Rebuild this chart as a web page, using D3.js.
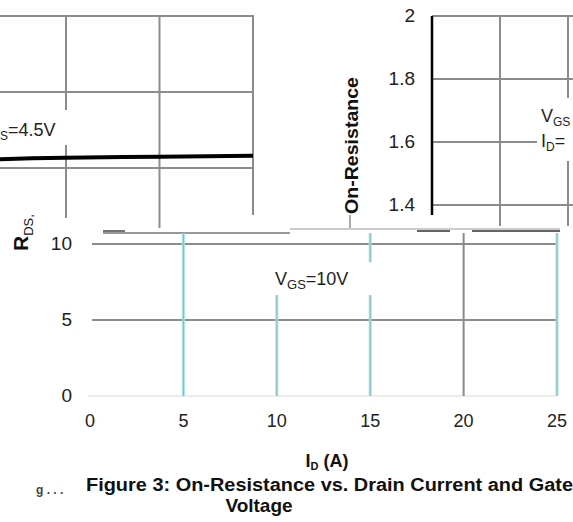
<!DOCTYPE html>
<html>
<head>
<meta charset="utf-8">
<title>Figure 3</title>
<script src="https://cdn.jsdelivr.net/npm/d3@7"></script>
<style>
  body { margin: 0; background: #fff; }
  text { font-family: "Liberation Sans", Arial, sans-serif; fill: #222; }
  .bold { font-weight: bold; fill: #111; }
</style>
</head>
<body>
<div id="chart"></div>
<script>
// tick values
var idTicks = [0, 5, 10, 15, 20, 25];
var rdsTicks = [0, 5, 10];
var normTicks = [1.4, 1.6, 1.8, 2];
var normGridX = [1, 2];          // vertical grid slots, right-hand fragment
// upper fragment (cut off VGS=4.5V chart)
var upperGridId = [15, 20, 25];
var upperGridR = [15, 20, 25];
var curveId = [11.4, 13.2, 15, 20, 25];
var curveR = [15.58, 15.64, 15.68, 15.74, 15.8];
// cyan-tinted lines in the lower chart
var cyanIds = [5, 10, 15, 25];

var W = 573, H = 522;
var grey = "#8c8c8c";

var svg = d3.select("#chart").append("svg")
    .attr("width", W).attr("height", H);
svg.append("rect").attr("width", W).attr("height", H).attr("fill", "#fff");

// ---------- fragment A : top left ----------
var xA = d3.scaleLinear().domain([15, 25]).range([66, 253]);
var yA = d3.scaleLinear().domain([15, 25]).range([168, 16]);
var gA = svg.append("g");

gA.selectAll(".hA").data(upperGridR).enter().append("line")
    .attr("x1", 0).attr("x2", xA(25) + 1)
    .attr("y1", function(d) { return yA(d); })
    .attr("y2", function(d) { return yA(d); })
    .attr("stroke", grey).attr("stroke-width", 2);

gA.selectAll(".vA").data(upperGridId).enter().append("line")
    .attr("x1", function(d) { return xA(d); })
    .attr("x2", function(d) { return xA(d); })
    .attr("y1", yA(25))
    .attr("y2", function(d) { return d == 20 ? 228 : d == 15 ? 218 : 215; })
    .attr("stroke", grey).attr("stroke-width", 2);

// label box for VGS=4.5V (only the tail shows)
gA.append("rect").attr("x", 0).attr("y", 110).attr("width", 69).attr("height", 35).attr("fill", "#fff");
var tA = gA.append("text").attr("x", 0).attr("y", 136).style("font-size", "18px");
tA.append("tspan").text("S").style("font-size", "12px").attr("dy", 4);
tA.append("tspan").text("=4.5V").attr("dy", -4);

var lineA = d3.line()
    .x(function(d, i) { return xA(curveId[i]); })
    .y(function(d) { return yA(d); })
    .curve(d3.curveMonotoneX);
gA.append("path").datum(curveR)
    .attr("d", lineA)
    .attr("fill", "none").attr("stroke", "#000").attr("stroke-width", 4);

// ---------- fragment B : top right ----------
var yB = d3.scaleLinear().domain([1.4, 2]).range([205, 16]);
var xB = d3.scaleLinear().domain([0, 1]).range([432, 500]);
var gB = svg.append("g");

gB.selectAll(".hB").data(normTicks).enter().append("line")
    .attr("x1", xB(0)).attr("x2", W)
    .attr("y1", function(d) { return yB(d); })
    .attr("y2", function(d) { return yB(d); })
    .attr("stroke", grey).attr("stroke-width", 2);

gB.selectAll(".vB").data(normGridX).enter().append("line")
    .attr("x1", function(d) { return xB(d); })
    .attr("x2", function(d) { return xB(d); })
    .attr("y1", yB(2)).attr("y2", 226)
    .attr("stroke", grey).attr("stroke-width", 2);

gB.append("line")
    .attr("x1", xB(0)).attr("x2", xB(0))
    .attr("y1", yB(2)).attr("y2", 215)
    .attr("stroke", "#000").attr("stroke-width", 2.5);

gB.selectAll(".tB").data(normTicks).enter().append("text")
    .attr("x", 415).attr("y", function(d) { return yB(d) + 1; })
    .attr("text-anchor", "end").attr("dominant-baseline", "middle")
    .style("font-size", "19px")
    .text(function(d) { return d == 2 ? "2" : d3.format(".1f")(d); });

// label box VGS / ID
gB.append("rect").attr("x", 537).attr("y", 98).attr("width", 40).attr("height", 63).attr("fill", "#fff");
var tB1 = gB.append("text").attr("x", 541).attr("y", 122).style("font-size", "18px");
tB1.append("tspan").text("V");
tB1.append("tspan").text("GS").style("font-size", "12px").attr("dy", 4);
var tB2 = gB.append("text").attr("x", 541).attr("y", 147).style("font-size", "18px");
tB2.append("tspan").text("I");
tB2.append("tspan").text("D").style("font-size", "12px").attr("dy", 4);
tB2.append("tspan").text("=").attr("dy", -4);

// axis title
gB.append("text").attr("class", "bold")
    .attr("transform", "translate(358,214) rotate(-90)")
    .attr("textLength", 137).attr("lengthAdjust", "spacingAndGlyphs")
    .style("font-size", "19px")
    .text("On-Resistance");
gB.append("line").attr("x1", 350).attr("x2", 350).attr("y1", 215).attr("y2", 228)
    .attr("stroke", "#aaa").attr("stroke-width", 2);

// ---------- fragment C : bottom main ----------
var x = d3.scaleLinear().domain([0, 25]).range([90, 557]);
var y = d3.scaleLinear().domain([0, 10]).range([396, 244]);
var gC = svg.append("g");

// cover anything running into the lower chart
gC.append("rect").attr("x", 88).attr("y", 233).attr("width", W - 88).attr("height", 170).attr("fill", "#fff");

// top edge pieces
gC.append("line").attr("x1", 103).attr("x2", 125).attr("y1", 231).attr("y2", 231)
    .attr("stroke", "#444").attr("stroke-width", 1.5);
gC.append("line").attr("x1", 103).attr("x2", 290).attr("y1", 233).attr("y2", 233)
    .attr("stroke", "#777").attr("stroke-width", 1.5);
gC.append("line").attr("x1", 290).attr("x2", 560).attr("y1", 229).attr("y2", 229)
    .attr("stroke", "#bbb").attr("stroke-width", 1.5);
gC.append("line").attr("x1", 417).attr("x2", 450).attr("y1", 231).attr("y2", 231)
    .attr("stroke", "#333").attr("stroke-width", 1.5);
gC.append("line").attr("x1", 472).attr("x2", 560).attr("y1", 231).attr("y2", 231)
    .attr("stroke", "#333").attr("stroke-width", 1.5);

// horizontal grid
gC.selectAll(".hC").data(rdsTicks.filter(function(d) { return d > 0; })).enter().append("line")
    .attr("x1", x(0) + 2).attr("x2", x(25))
    .attr("y1", function(d) { return y(d); })
    .attr("y2", function(d) { return y(d); })
    .attr("stroke", grey).attr("stroke-width", 2);
gC.append("line").attr("x1", x(0) - 2).attr("x2", x(25))
    .attr("y1", y(0)).attr("y2", y(0))
    .attr("stroke", "#e6e6e6").attr("stroke-width", 1.5);

// vertical grid (with the gaps left by the label box)
var vSegs = [];
idTicks.filter(function(d) { return d > 0; }).forEach(function(d) {
  if (d == 10) vSegs.push([d, 0, 6.64]);
  else if (d == 15) { vSegs.push([d, 0, 6.64]); vSegs.push([d, 8.8, 10.72]); }
  else vSegs.push([d, 0, 10.72]);
});
var vC = gC.selectAll(".vC").data(vSegs).enter();
vC.append("line")
    .attr("x1", function(d) { return x(d[0]); })
    .attr("x2", function(d) { return x(d[0]); })
    .attr("y1", function(d) { return y(d[1]); })
    .attr("y2", function(d) { return y(d[2]); })
    .attr("stroke", function(d) { return cyanIds.indexOf(d[0]) >= 0 ? "#a6e3e7" : grey; })
    .attr("stroke-width", function(d) { return cyanIds.indexOf(d[0]) >= 0 ? 3 : 2; });
vC.append("line")
    .attr("x1", function(d) { return x(d[0]); })
    .attr("x2", function(d) { return x(d[0]); })
    .attr("y1", function(d) { return y(d[1]); })
    .attr("y2", function(d) { return y(d[2]); })
    .attr("stroke", function(d) { return cyanIds.indexOf(d[0]) >= 0 ? "#8fb8bb" : grey; })
    .attr("stroke-width", 1);

// ticks
gC.selectAll(".ty").data(rdsTicks).enter().append("text")
    .attr("x", 72).attr("y", function(d) { return y(d) + 1; })
    .attr("text-anchor", "end").attr("dominant-baseline", "middle")
    .style("font-size", "19px")
    .text(function(d) { return d; });
gC.selectAll(".tx").data(idTicks).enter().append("text")
    .attr("x", function(d) { return x(d); }).attr("y", 422)
    .attr("text-anchor", "middle").attr("dominant-baseline", "middle")
    .style("font-size", "18px")
    .text(function(d) { return d; });

// label VGS=10V
var tC = gC.append("text").attr("x", 275).attr("y", 285).style("font-size", "18px");
tC.append("tspan").text("V");
tC.append("tspan").text("GS").style("font-size", "13px").attr("dy", 4);
tC.append("tspan").text("=10V").attr("dy", -4);

// y title (cut) R DS
var tR = svg.append("text").attr("class", "bold")
    .attr("transform", "translate(28,251) rotate(-90)")
    .style("font-size", "21px");
tR.append("tspan").text("R");
tR.append("tspan").text("DS,").style("font-size", "13px").style("font-weight", "normal").attr("dy", 5);

// x title
var tX = svg.append("text").attr("class", "bold")
    .attr("x", 327).attr("y", 467).attr("text-anchor", "middle")
    .style("font-size", "18px");
tX.append("tspan").text("I");
tX.append("tspan").text("D").style("font-size", "11px").attr("dy", 3);
tX.append("tspan").text(" (A)").attr("dy", -3);

// caption
svg.append("text").attr("class", "bold")
    .attr("x", 86).attr("y", 491)
    .attr("textLength", 487).attr("lengthAdjust", "spacingAndGlyphs")
    .style("font-size", "18px")
    .text("Figure 3: On-Resistance vs. Drain Current and Gate");
svg.append("text").attr("class", "bold")
    .attr("x", 259).attr("y", 512).attr("text-anchor", "middle")
    .style("font-size", "19px")
    .text("Voltage");
svg.append("text").attr("class", "bold")
    .attr("x", 36).attr("y", 494)
    .style("font-size", "12px").style("fill", "#444")
    .text("g . . .");
</script>
</body>
</html>
